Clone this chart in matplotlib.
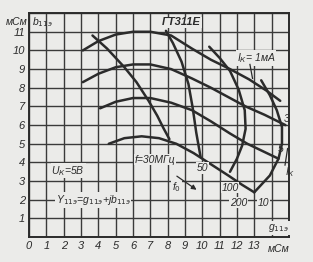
import matplotlib
matplotlib.use("Agg")
import matplotlib.pyplot as plt

# constant collector-current curves (g11e, b11e), mSm
ik_1_g = [3.1, 4.0, 5.0, 6.0, 7.0, 8.2, 9.4, 10.5, 11.6, 12.7, 13.7, 14.5]
ik_1_b = [10.0, 10.5, 10.85, 11.0, 11.0, 10.8, 10.1, 9.5, 9.0, 8.45, 7.85, 7.3]
ik_3_g = [3.1, 4.0, 5.0, 6.0, 7.0, 8.2, 9.4, 10.5, 11.5, 12.5, 13.6, 14.8]
ik_3_b = [8.3, 8.75, 9.1, 9.25, 9.25, 9.0, 8.5, 8.0, 7.5, 7.0, 6.55, 6.0]
ik_5_g = [4.1, 5.0, 6.0, 7.0, 8.2, 9.4, 10.5, 11.6, 12.6, 13.5, 14.4]
ik_5_b = [6.9, 7.25, 7.45, 7.45, 7.2, 6.8, 6.2, 5.55, 5.0, 4.6, 4.2]
ik_10_g = [4.6, 5.5, 6.5, 7.5, 8.5, 9.5, 10.5, 11.5, 12.3, 13.0]
ik_10_b = [5.0, 5.3, 5.4, 5.3, 5.0, 4.5, 3.9, 3.3, 2.8, 2.4]

# constant frequency curves
f30_g = [3.66, 4.5, 5.5, 6.2, 6.9, 7.4, 7.75, 8.1]
f30_b = [10.8, 10.1, 9.1, 8.3, 7.3, 6.5, 5.85, 5.25]
f50_g = [7.9, 8.3, 8.8, 9.2, 9.45, 9.65, 9.9]
f50_b = [11.05, 10.4, 9.4, 8.2, 6.9, 5.6, 4.3]
f100_g = [10.4, 11.0, 11.6, 12.1, 12.45, 12.5, 12.3, 12.0, 11.6]
f100_b = [10.2, 9.6, 8.9, 7.9, 6.8, 5.8, 4.9, 4.2, 3.5]
f200_g = [13.4, 13.9, 14.3, 14.6, 14.6, 14.4, 13.9, 13.0]
f200_b = [8.4, 7.6, 6.8, 5.9, 5.0, 4.2, 3.3, 2.4]

x_ticks = list(range(14))
x_labels = [str(i) for i in range(14)]
y_ticks = list(range(1, 12))
y_labels = [str(i) for i in range(1, 12)]

bg = "#ebebe9"
ink = "#2b2b2b"

plt.rcParams["font.family"] = ["Liberation Sans", "DejaVu Sans"]
fig = plt.figure(figsize=(3.13, 2.62), dpi=100, facecolor=bg)
ax = fig.add_axes([0.093, 0.095, 0.83, 0.855])
ax.set_facecolor(bg)
ax.set_xlim(0, 15)
ax.set_ylim(0, 12)
ax.set_xticks(range(16), minor=False)
ax.set_xticklabels(x_labels + ["", ""], fontsize=8, style="italic", color=ink)
ax.set_yticks(range(13))
ax.set_yticklabels([""] + y_labels + [""], fontsize=8, style="italic", color=ink)
ax.tick_params(length=0, pad=3)
ax.grid(True, color="#3a3a3a", linewidth=1.0)
for s in ax.spines.values():
    s.set_color(ink)
    s.set_linewidth(1.4)

for g, b in [(ik_1_g, ik_1_b), (ik_3_g, ik_3_b), (ik_5_g, ik_5_b), (ik_10_g, ik_10_b),
             (f30_g, f30_b), (f50_g, f50_b), (f100_g, f100_b), (f200_g, f200_b)]:
    ax.plot(g, b, color=ink, linewidth=1.8, solid_capstyle="round", zorder=3)

tk = dict(style="italic", color=ink, fontsize=7.5)
wb = dict(facecolor=bg, edgecolor="none", pad=0.5)
ax.text(-0.1, 11.5, "мСм", ha="right", va="center", clip_on=False, **tk)
ax.text(0.15, 11.5, "b$_{11э}$", ha="left", va="center", **tk)
ax.text(14.4, -0.63, "мСм", ha="center", va="center", clip_on=False, **tk)
ax.text(8.8, 11.5, "ГТ311Е", ha="center", va="center", fontweight="bold", fontsize=8,
        style="italic", color=ink, bbox=wb)
ax.text(14.4, 0.5, "g$_{11э}$", ha="center", va="center", bbox=wb, **tk)
ax.text(13.1, 9.6, "I$_К$= 1мА", ha="center", va="center", bbox=wb, **tk)
ax.plot([12.75, 12.9], [9.25, 8.5], color=ink, linewidth=0.9, zorder=3)
ax.text(2.25, 3.55, "U$_К$=5В", ha="center", va="center", bbox=wb, **tk)
ax.text(3.7, 2.0, "Y$_{11э}$=g$_{11э}$+jb$_{11э}$", ha="center", va="center", bbox=wb, **tk)
ax.text(7.25, 4.15, "f=30МГц", ha="center", va="center", bbox=wb, **tk)
ax.text(10.0, 3.7, "50", ha="center", va="center", bbox=wb, **tk)
ax.text(11.6, 2.65, "100", ha="center", va="center", bbox=wb, **tk)
ax.text(12.1, 1.85, "200", ha="center", va="center", bbox=wb, **tk)
ax.text(13.55, 1.85, "10", ha="center", va="center", bbox=wb, **tk)
ax.text(14.85, 6.35, "3", ha="center", va="center", **tk)
ax.text(14.55, 4.7, "5", ha="center", va="center", **tk)
ax.text(8.5, 2.7, "f$_0$", ha="center", va="center", bbox=wb, **tk)
ax.annotate("", xy=(9.8, 2.45), xytext=(8.4, 3.35),
            arrowprops=dict(arrowstyle="-|>", color=ink, lw=0.9, mutation_scale=7))
ax.annotate("", xy=(14.75, 3.7), xytext=(14.95, 4.9),
            arrowprops=dict(arrowstyle="-", color=ink, lw=0.9))
ax.text(14.75, 3.5, "I$_К$", ha="left", va="center", clip_on=False, **tk)

fig.savefig("out.png", dpi=100, facecolor=bg)
